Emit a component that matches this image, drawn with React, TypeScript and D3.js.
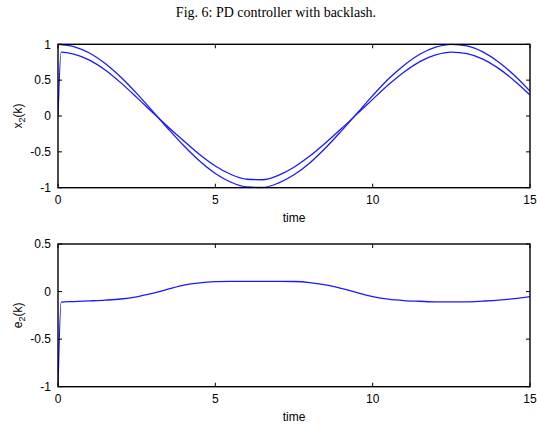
import React from "react";
import * as d3 from "d3";

const W = 537;
const H = 426;

const titleText = "Fig. 6: PD controller with backlash.";
const xTicks = [0, 5, 10, 15];
const yTicksTop = [-1, -0.5, 0, 0.5, 1];
const yTicksBottom = [-1, -0.5, 0, 0.5];
const xLabel = "time";

// reference trajectory (upper curve in top panel)
const refT = [0, 0.5, 1, 1.5, 2, 2.5, 3, 3.5, 4, 4.5, 5, 5.5, 6, 6.5, 7, 7.5, 8, 8.5, 9, 9.5, 10, 10.5, 11, 11.5, 12, 12.5, 13, 13.5, 14, 14.5, 15];
const refX = [1, 0.969, 0.878, 0.732, 0.54, 0.315, 0.071, -0.178, -0.416, -0.628, -0.801, -0.924, -0.99, -0.997, -0.936, -0.82, -0.654, -0.446, -0.211, 0.036, 0.284, 0.515, 0.709, 0.861, 0.96, 1.0, 0.977, 0.894, 0.754, 0.568, 0.347];

// system output x2(k)
const outT = [0, 0.1, 0.5, 1, 1.5, 2, 2.5, 3, 3.5, 4, 4.5, 5, 5.5, 6, 6.5, 7, 7.5, 8, 8.5, 9, 9.5, 10, 10.5, 11, 11.5, 12, 12.5, 13, 13.5, 14, 14.5, 15];
const outX = [0, 0.89, 0.864, 0.78, 0.642, 0.462, 0.26, 0.051, -0.153, -0.348, -0.536, -0.697, -0.816, -0.882, -0.889, -0.828, -0.714, -0.559, -0.376, -0.178, 0.026, 0.232, 0.435, 0.614, 0.759, 0.852, 0.892, 0.869, 0.794, 0.664, 0.493, 0.294];

// tracking error e2(k)
const errT = [0, 0.1, 0.5, 1, 1.5, 2, 2.5, 3, 3.5, 4, 4.5, 5, 5.5, 6, 6.5, 7, 7.5, 8, 8.5, 9, 9.5, 10, 10.5, 11, 11.5, 12, 12.5, 13, 13.5, 14, 14.5, 15];
const errE = [-1, -0.11, -0.105, -0.098, -0.09, -0.078, -0.055, -0.02, 0.025, 0.068, 0.092, 0.104, 0.108, 0.108, 0.108, 0.108, 0.106, 0.095, 0.07, 0.033, -0.01, -0.052, -0.08, -0.095, -0.102, -0.108, -0.108, -0.108, -0.1, -0.09, -0.075, -0.053];

const FONT = "Arial, 'Liberation Sans', Helvetica, sans-serif";
const BLUE = "#1a1aff";

type Series = { t: number[]; v: number[] };

function fmt(v: number) {
  return String(v);
}

function Panel(props: {
  top: number;
  bottom: number;
  yDomain: [number, number];
  yTicks: number[];
  series: Series[];
  ylab: string;
  xlabY: number;
  tickLabY: number;
}) {
  const left = 58;
  const right = 530;
  const x = d3.scaleLinear().domain([0, 15]).range([left, right]);
  const y = d3.scaleLinear().domain(props.yDomain).range([props.bottom, props.top]);
  const line = (s: Series) =>
    d3
      .line<number>()
      .x((_, i) => x(s.t[i]))
      .y((d) => y(d))
      .curve(d3.curveMonotoneX)(s.v) || "";
  const tl = 4;
  const clipId = "clip" + props.top;
  return (
    <g>
      <defs>
        <clipPath id={clipId}>
          <rect x={left} y={props.top - 1} width={right - left} height={props.bottom - props.top + 2} />
        </clipPath>
      </defs>
      <g clipPath={`url(#${clipId})`}>
        {props.series.map((s, i) => (
          <path key={i} d={line(s)} fill="none" stroke={BLUE} strokeWidth={1.3} />
        ))}
      </g>
      <rect x={left} y={props.top} width={right - left} height={props.bottom - props.top} fill="none" stroke="#000" strokeWidth={1.4} />
      {xTicks.map((t) => (
        <g key={"x" + t}>
          <line x1={x(t)} x2={x(t)} y1={props.bottom} y2={props.bottom - tl} stroke="#000" />
          <line x1={x(t)} x2={x(t)} y1={props.top} y2={props.top + tl} stroke="#000" />
          <text x={x(t)} y={props.tickLabY} textAnchor="middle" fontSize={12} fontFamily={FONT}>
            {fmt(t)}
          </text>
        </g>
      ))}
      {props.yTicks.map((v) => (
        <g key={"y" + v}>
          <line x1={left} x2={left + tl} y1={y(v)} y2={y(v)} stroke="#000" />
          <line x1={right} x2={right - tl} y1={y(v)} y2={y(v)} stroke="#000" />
          <text x={51} y={y(v) + 4.3} textAnchor="end" fontSize={12} fontFamily={FONT}>
            {fmt(v)}
          </text>
        </g>
      ))}
      <text x={(left + right) / 2} y={props.xlabY} textAnchor="middle" fontSize={12} fontFamily={FONT}>
        {xLabel}
      </text>
      <text
        transform={`translate(22,${(props.top + props.bottom) / 2}) rotate(-90)`}
        textAnchor="middle"
        fontSize={12}
        fontFamily={FONT}
      >
        {props.ylab}
        <tspan fontSize={9} dy={3}>2</tspan>
        <tspan dy={-3}>(k)</tspan>
      </text>
    </g>
  );
}

export default function App() {
  return (
    <svg
      width={W}
      height={H}
      style={{ position: "absolute", left: 0, top: 0, background: "#fff" }}
    >
      <rect width={W} height={H} fill="#fff" />
      <text x={276} y={17} textAnchor="middle" fontSize={14} fontFamily="'Liberation Serif', 'Times New Roman', serif">
        {titleText}
      </text>
      <Panel
        top={44.3}
        bottom={187.7}
        yDomain={[-1, 1]}
        yTicks={yTicksTop}
        series={[
          { t: refT, v: refX },
          { t: outT, v: outX },
        ]}
        ylab="x"
        xlabY={222}
        tickLabY={204}
      />
      <Panel
        top={244}
        bottom={386.7}
        yDomain={[-1, 0.5]}
        yTicks={yTicksBottom}
        series={[{ t: errT, v: errE }]}
        ylab="e"
        xlabY={421}
        tickLabY={403}
      />
    </svg>
  );
}
